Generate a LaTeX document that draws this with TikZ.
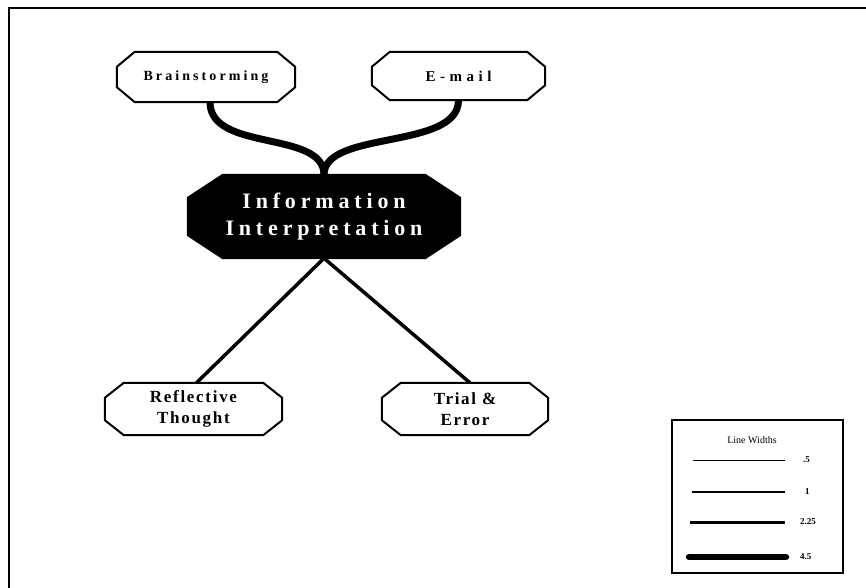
\documentclass[tikz,border=0pt]{standalone}
\usepackage{fontspec}
\setmainfont{Liberation Serif}
\newfontfamily\topfont[LetterSpace=22]{Liberation Serif}
\newfontfamily\mailfont[LetterSpace=30]{Liberation Serif}
\newfontfamily\lowfont[LetterSpace=10]{Liberation Serif}
\newfontfamily\infofont[LetterSpace=22]{Liberation Serif}
\usetikzlibrary{calc,backgrounds}
\newcommand{\octframe}[4]{%
  \path[#1] ($(#2.north west)+(#3pt,0pt)$) -- ($(#2.north east)+(-#3pt,0pt)$)
    -- ($(#2.north east)+(0pt,-#4pt)$) -- ($(#2.south east)+(0pt,#4pt)$)
    -- ($(#2.south east)+(-#3pt,0pt)$) -- ($(#2.south west)+(#3pt,0pt)$)
    -- ($(#2.south west)+(0pt,#4pt)$) -- ($(#2.north west)+(0pt,-#4pt)$) -- cycle;}
\tikzset{
  boxn/.style={inner sep=0pt, align=center},
  octline/.style={draw=black, line width=2pt, fill=white, line join=round},
  octblack/.style={draw=black, line width=2pt, fill=black, line join=round},
  thickcurve/.style={line width=7pt},
  diag/.style={line width=3.5pt},
}
\begin{document}
\begin{tikzpicture}[x=1pt,y=-1pt]
\useasboundingbox (0,0) rectangle (866,588);
\clip (0,0) rectangle (866,588);
\draw[line width=2.5pt] (9,8) rectangle (900,620);

\node[boxn, minimum width=178pt, minimum height=50pt,
  font=\topfont\bfseries\fontsize{14}{16}\selectfont] (b) at (206,77) {Brainstorming};
\node[boxn, minimum width=173pt, minimum height=48pt,
  font=\mailfont\bfseries\fontsize{15}{16}\selectfont] (e) at (458.5,76) {E-mail};
\node[boxn, minimum width=272pt, minimum height=83pt, text=white,
  font=\infofont\bfseries\fontsize{22}{27}\selectfont] (i) at (324,216.5) {Information\\Interpretation};
\node[boxn, minimum width=177pt, minimum height=52pt,
  font=\lowfont\bfseries\fontsize{17}{21}\selectfont] (r) at (193.5,409) {Reflective\\Thought};
\node[boxn, minimum width=166pt, minimum height=52pt,
  font=\lowfont\bfseries\fontsize{17}{21}\selectfont] (t) at (465,409) {Trial \&\\Error};

\begin{scope}[on background layer]
  \octframe{octline}{b}{18}{15}
  \octframe{octline}{e}{18}{15}
  \octframe{octblack}{i}{35}{23}
  \octframe{octline}{r}{19}{15}
  \octframe{octline}{t}{19}{15}
\end{scope}

\draw[thickcurve] ($(b.south)+(4pt,0pt)$) .. controls +(0,50) and +(0,-45) .. (i.north);
\draw[thickcurve] (e.south) .. controls +(0,50) and +(0,-45) .. (i.north);
\draw[diag] (i.south) -- ($(r.north)+(3pt,0pt)$);
\draw[diag] (i.south) -- ($(t.north)+(5pt,0pt)$);

% legend
\node[draw, line width=1.5pt, minimum width=171pt, minimum height=153pt, inner sep=0pt] (lg) at (757.5,496.5) {};
\node[font=\fontsize{10}{11}\selectfont] (lgt) at (752,440) {Line Widths};
\coordinate (a1) at (693,460); \coordinate (b1) at (785,460);
\coordinate (a2) at (692,492); \coordinate (b2) at (785,492);
\coordinate (a3) at (690,522); \coordinate (b3) at (785,522);
\coordinate (a4) at (689,557); \coordinate (b4) at (786,557);
\draw[line width=0.7pt] (a1) -- (b1);
\draw[line width=1.8pt] (a2) -- (b2);
\draw[line width=3pt] (a3) -- (b3);
\draw[line width=6.5pt, line cap=round] (a4) -- (b4);
\begin{scope}[every node/.style={anchor=west, inner sep=0pt, font=\bfseries\fontsize{9}{10}\selectfont}]
\node (n1) at (803,460) {.5};
\node (n2) at (805,492) {1};
\node (n3) at (800,522) {2.25};
\node (n4) at (800,557) {4.5};
\end{scope}
\end{tikzpicture}
\end{document}
